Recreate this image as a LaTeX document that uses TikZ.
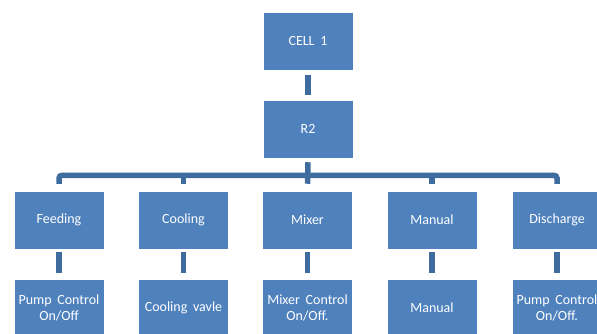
\documentclass[tikz,border=0pt]{standalone}
\usepackage{fontspec}
\newfontfamily\boxfont[WordSpace=1.8]{Carlito}
\usetikzlibrary{calc}
\definecolor{boxblue}{HTML}{4F81BD}
\definecolor{linkblue}{HTML}{3F6C9E}
\tikzset{
  unit/.style={draw=white, line width=0.5pt, fill=boxblue, minimum width=90pt,
    minimum height=58pt, inner sep=0pt, text=white, align=center,
    font=\boxfont\fontsize{14}{16}\selectfont},
  link/.style={draw=linkblue, line width=5.5pt},
}
\begin{document}
\begin{tikzpicture}[x=1pt,y=-1pt]
\useasboundingbox (0,0) rectangle (597,334);
\clip (0,0) rectangle (597,334);
% hierarchy boxes
\node[unit] (cell) at (308,41) {CELL 1};
\node[unit] (r2) at (308,129) {R2};
\node[unit] (feed) at (59,220) {Feeding};
\node[unit] (cool) at (183.5,220) {Cooling};
\node[unit] (mix) at (307.5,220) {Mixer};
\node[unit] (man) at (432,220) {Manual};
\node[unit] (dis) at (557,220) {Discharge};
\node[unit] (pump1) at (59,308) {Pump Control\\On/Off};
\node[unit] (valve) at (183.5,308) {Cooling vavle};
\node[unit] (mixc) at (307.5,308) {Mixer Control\\On/Off.};
\node[unit] (man2) at (432,308) {Manual};
\node[unit] (pump2) at (557,308) {Pump Control\\On/Off.};
% connectors
\draw[link] ($(cell.south)+(0,5)$) -- ($(r2.north)+(0,-5)$);
\coordinate (bus) at ($(r2.south)+(0,17)$);
\draw[link, rounded corners=3pt] ($(feed.north)+(0,-7)$) |- (bus) -| ($(dis.north)+(0,-7)$);
\draw[link] ($(r2.south)+(0,4)$) -- ($(mix.north)+(0,-7)$);
\draw[link] (bus -| cool) -- ($(cool.north)+(0,-7)$);
\draw[link] (bus -| man) -- ($(man.north)+(0,-7)$);
\foreach \a/\b in {feed/pump1, cool/valve, mix/mixc, man/man2, dis/pump2}
  \draw[link] ($(\a.south)+(0,3)$) -- ($(\b.north)+(0,-6)$);
\end{tikzpicture}
\end{document}
